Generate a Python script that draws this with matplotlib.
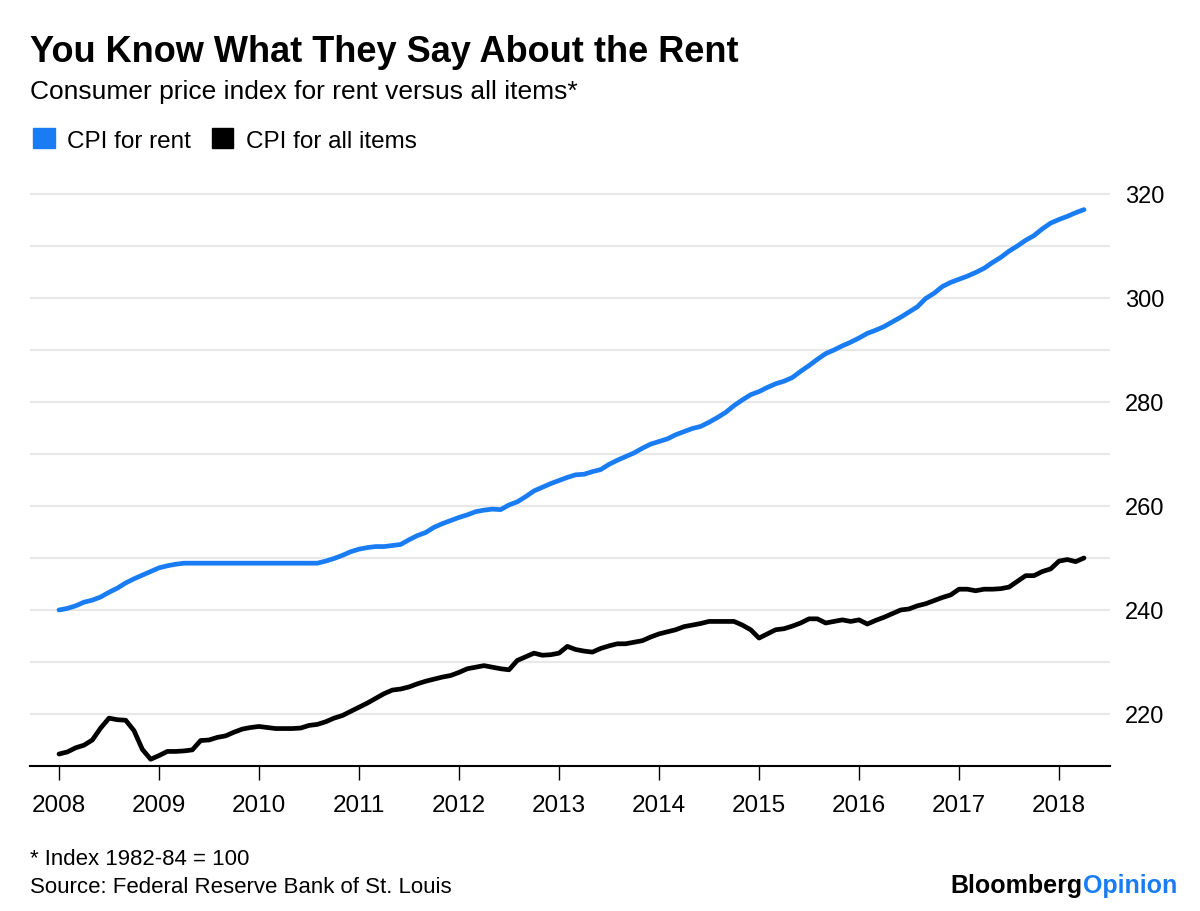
import numpy as np
import matplotlib
matplotlib.use("Agg")
import matplotlib.pyplot as plt
from matplotlib.patches import Patch

# monthly values, Jan 2008 .. Apr 2018
rent = [240.0, 240.3, 240.8, 241.5, 241.9, 242.5, 243.4, 244.2, 245.2, 246.0, 246.7, 247.4,
        248.1, 248.5, 248.8, 249.0, 249.0, 249.0, 249.0, 249.0, 249.0, 249.0, 249.0, 249.0,
        249.0, 249.0, 249.0, 249.0, 249.0, 249.0, 249.0, 249.0, 249.4, 249.9, 250.5, 251.2,
        251.7, 252.0, 252.2, 252.2, 252.4, 252.6, 253.5, 254.3, 254.9, 255.9, 256.6, 257.2,
        257.8, 258.3, 258.9, 259.2, 259.4, 259.3, 260.2, 260.8, 261.8, 262.9, 263.6, 264.3,
        264.9, 265.5, 266.0, 266.1, 266.6, 267.0, 268.0, 268.8, 269.5, 270.2, 271.1, 271.9,
        272.4, 272.9, 273.7, 274.3, 274.9, 275.3, 276.1, 277.0, 278.0, 279.3, 280.4, 281.4,
        282.0, 282.8, 283.5, 284.0, 284.7, 285.9, 287.0, 288.2, 289.3, 290.0, 290.8, 291.5,
        292.3, 293.2, 293.8, 294.5, 295.4, 296.3, 297.3, 298.3, 299.9, 300.9, 302.2, 303.0,
        303.6, 304.2, 304.9, 305.7, 306.8, 307.8, 309.0, 310.0, 311.1, 312.0, 313.3, 314.4,
        315.1, 315.7, 316.4, 317.0]

all_items = [212.3, 212.7, 213.5, 214.0, 215.0, 217.3, 219.2, 218.9, 218.8, 216.8, 213.2, 211.3,
             212.0, 212.8, 212.8, 212.9, 213.1, 214.9, 215.0, 215.5, 215.8, 216.5, 217.1, 217.4,
             217.6, 217.4, 217.2, 217.2, 217.2, 217.3, 217.8, 218.0, 218.5, 219.2, 219.7, 220.5,
             221.3, 222.1, 223.0, 223.9, 224.6, 224.8, 225.2, 225.8, 226.3, 226.7, 227.1, 227.4,
             228.0, 228.7, 229.0, 229.3, 229.0, 228.7, 228.5, 230.3, 231.0, 231.7, 231.3, 231.4,
             231.7, 233.0, 232.4, 232.1, 231.9, 232.6, 233.1, 233.5, 233.5, 233.8, 234.1, 234.8,
             235.4, 235.8, 236.2, 236.8, 237.1, 237.4, 237.8, 237.8, 237.8, 237.8, 237.1, 236.2,
             234.6, 235.4, 236.2, 236.4, 236.9, 237.5, 238.3, 238.3, 237.5, 237.8, 238.1, 237.8,
             238.1, 237.3, 238.0, 238.6, 239.3, 240.0, 240.2, 240.8, 241.2, 241.8, 242.4, 242.9,
             244.0, 244.0, 243.7, 244.0, 244.0, 244.1, 244.4, 245.5, 246.6, 246.6, 247.4, 247.9,
             249.4, 249.7, 249.3, 250.0]

dates = 2008 + np.arange(len(rent)) / 12.0
year_ticks = list(range(2008, 2019))
value_ticks = [220, 240, 260, 280, 300, 320]

blue = '#1a7cf2'

plt.rcParams['font.family'] = ['Liberation Sans', 'DejaVu Sans']

fig = plt.figure(figsize=(12, 9.12), dpi=100)
ax = fig.add_axes([0.025, 0.159, 0.9, 0.6386])

ax.plot(dates, rent, color=blue, lw=3.4, solid_capstyle='round', zorder=3)
ax.plot(dates, all_items, color='black', lw=3.4, solid_capstyle='round', zorder=3)

ax.set_xlim(2007.71, 2018.51)
ax.set_ylim(210, 322)
ax.set_yticks(np.arange(220, 321, 10), minor=True)
ax.set_yticks(value_ticks)
ax.yaxis.tick_right()
ax.tick_params(axis='y', which='both', length=0, labelsize=17, pad=11)
ax.grid(axis='y', which='both', color='#e8e8e8', lw=1.6)
ax.set_axisbelow(True)

ax.set_xticks(year_ticks)
ax.set_xticklabels([str(y) for y in year_ticks])
ax.tick_params(axis='x', length=10, width=1, color='black', labelsize=17.5, pad=10)

for s in ['top', 'left', 'right']:
    ax.spines[s].set_visible(False)
ax.spines['bottom'].set_linewidth(1.5)

fig.text(0.025, 1 - 62 / 912, 'You Know What They Say About the Rent',
         fontsize=26, fontweight='bold', ha='left', va='baseline')
fig.text(0.025, 1 - 99 / 912, 'Consumer price index for rent versus all items*',
         fontsize=19, ha='left', va='baseline')

handles = [Patch(color=blue, label='CPI for rent'), Patch(color='black', label='CPI for all items')]
fig.legend(handles=handles, loc='center left', bbox_to_anchor=(0.0275, 1 - 141 / 912),
           frameon=False, ncol=2, fontsize=17.5, handlelength=0.9, handleheight=0.9,
           handletextpad=0.5, columnspacing=0.85, borderaxespad=0, borderpad=0)

fig.text(0.025, 1 - 865 / 912, '* Index 1982-84 = 100', fontsize=16, ha='left', va='baseline')
fig.text(0.025, 1 - 893 / 912, 'Source: Federal Reserve Bank of St. Louis', fontsize=16,
         ha='left', va='baseline')
fig.text(1083 / 1200, 1 - 893 / 912, 'Bloomberg', fontsize=18, fontweight='bold',
         ha='right', va='baseline', color='black')
fig.text(1083 / 1200, 1 - 893 / 912, 'Opinion', fontsize=18, fontweight='bold',
         ha='left', va='baseline', color=blue)

fig.savefig('out.png', dpi=100, facecolor='white')
